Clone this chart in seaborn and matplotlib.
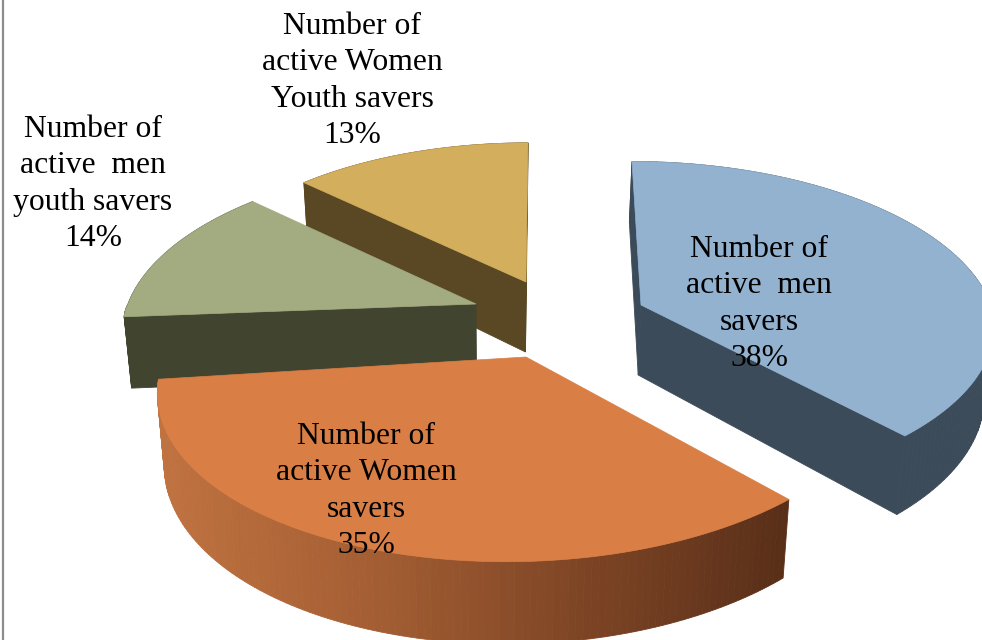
import numpy as np
import matplotlib
matplotlib.use("Agg")
import matplotlib.pyplot as plt
import seaborn as sns

# Share of active savers per group, clockwise from twelve o'clock
groups = ["Number of\nactive  men\nsavers",
          "Number of\nactive Women\nsavers",
          "Number of\nactive  men\nyouth savers",
          "Number of\nactive Women\nYouth savers"]
shares = [38, 35, 14, 13]

top_colors = ["#92B2D0", "#D97E45", "#A3AB80", "#D3AE5C"]
wall_ramps = [["#3C4B59", "#3C4B59"],
              ["#C07240", "#A45E33", "#7E4525", "#582E18"],
              ["#414530", "#414530"],
              ["#5A4824", "#5A4824"]]

# Layout of the exploded slices, in pixels
apexes = [(641, 305), (526, 357), (476, 304), (526, 282)]
radius_x = [350, 361, 348, 338]
radius_y_back = [165, 165, 165, 160]
radius_y_front = [160, 174, 100, 165]
lean_back = [9, 0, -10, -2]
lean_front = [-7, -20, 0, 0]
label_xy = [(759, 304), (366, 491), (93, 184), (352, 81)]
draw_order = [3, 2, 0, 1]
TILT, DEPTH, VANISH_X, SHRINK = 0.15, 70, 500, 0.98

sns.set_theme(style="white")
plt.rcParams["font.family"] = ["Liberation Serif", "DejaVu Serif"]

fig, ax = plt.subplots(figsize=(9.82, 6.4), dpi=100)
fig.subplots_adjust(0, 0, 1, 1)
ax.set_xlim(0, 982)
ax.set_ylim(640, 0)
ax.axis("off")


def project(i, theta, lower=False):
    """Map a rim point of slice i to the page with a simple perspective."""
    theta = np.asarray(theta, dtype=float)
    u, v = np.sin(theta), -np.cos(theta)
    s = 1 / (1 - TILT * v)
    lean = np.where(v < 0, lean_back[i], lean_front[i])
    ry = np.where(v < 0, radius_y_back[i], radius_y_front[i])
    x = apexes[i][0] + u * radius_x[i] * s + lean * v
    y = apexes[i][1] + v * ry * s
    if lower:
        x = VANISH_X + (x - VANISH_X) * SHRINK
        y = y + DEPTH * s
    return x, y


def apex_point(i, lower=False):
    x, y = apexes[i]
    if lower:
        return VANISH_X + (x - VANISH_X) * SHRINK, y + DEPTH
    return float(x), float(y)


edges = np.cumsum([0] + shares) / sum(shares) * 2 * np.pi

for i in draw_order:
    z = 1 + draw_order.index(i)
    start, stop = edges[i], edges[i + 1]
    thetas = np.linspace(start, stop, 121)
    ramp = sns.blend_palette(wall_ramps[i], 120)

    # Outer rim, split into strips so the shading can follow the page x
    tx, ty = project(i, thetas)
    bx, by = project(i, thetas, lower=True)
    x_lo, x_hi = tx.min(), tx.max()
    for k in range(120):
        mid = (tx[k] + tx[k + 1]) / 2
        shade = ramp[int(np.clip((mid - x_lo) / (x_hi - x_lo) * 119, 0, 119))]
        ax.fill([tx[k], tx[k + 1], bx[k + 1], bx[k]],
                [ty[k], ty[k + 1], by[k + 1], by[k]],
                color=shade, lw=0.6, zorder=z)

    # Straight cut faces, only those turned towards the viewer
    ax0, ay0 = apex_point(i)
    bx0, by0 = apex_point(i, lower=True)
    for edge, facing in ((start, -np.sin(start)), (stop, np.sin(stop))):
        if facing < -1e-6:
            continue
        ex, ey = project(i, edge)
        fx, fy = project(i, edge, lower=True)
        ax.fill([ax0, ex, fx, bx0], [ay0, ey, fy, by0],
                color=wall_ramps[i][-1], lw=0.6, zorder=z)

    # Top of the slice
    ax.fill(np.r_[ax0, tx], np.r_[ay0, ty], color=top_colors[i], lw=0.5, zorder=z)

for i in range(len(groups)):
    ax.text(*label_xy[i], f"{groups[i]}\n{shares[i]}%", ha="center", va="center",
            fontsize=22.8, color="black", linespacing=1.34, zorder=10)

# Thin gray frame rule down the left side
ax.axvline(3, color="#8C8C8C", lw=1.6, zorder=11)

fig.savefig("out.png", dpi=100)
